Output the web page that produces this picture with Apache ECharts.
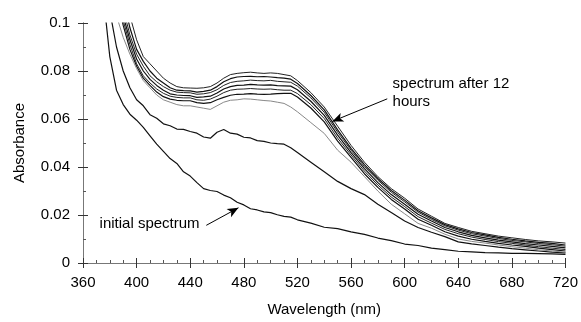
<!DOCTYPE html>
<html>
<head>
<meta charset="utf-8">
<script src="https://cdn.jsdelivr.net/npm/echarts@6/dist/echarts.min.js"></script>
<style>
  html, body { margin: 0; padding: 0; background: #fff; }
  #chart { width: 581px; height: 322px; }
</style>
</head>
<body>
<div id="chart"></div>
<script>
// wavelength grid (nm), shared by all spectra
var wavelengths = [375,380,385,390,395,400,405,410,415,420,425,430,435,440,445,450,455,460,465,470,475,480,485,490,495,500,505,510,515,520,530,540,550,560,570,580,590,600,610,620,630,640,650,660,670,680,690,700,710,720];

var initialSpectrum = [0.112,0.086,0.072,0.066,0.062,0.0595,0.0565,0.053,0.0495,0.0465,0.0435,0.0415,0.038,0.0362,0.0335,0.031,0.0302,0.0298,0.0283,0.0272,0.0253,0.0242,0.0226,0.0221,0.0213,0.021,0.0201,0.0194,0.0191,0.018,0.0166,0.0149,0.0143,0.013,0.0119,0.0104,0.0093,0.0079,0.0073,0.0062,0.0056,0.0049,0.0046,0.0043,0.0042,0.004,0.004,0.0039,0.0038,0.0036];

var secondSpectrum = [0.14,0.105,0.090,0.080,0.073,0.068,0.0655,0.0618,0.0603,0.058,0.0572,0.0558,0.0557,0.0548,0.0541,0.0525,0.052,0.0545,0.0556,0.0541,0.0537,0.0524,0.0521,0.051,0.0507,0.050,0.0497,0.0495,0.048,0.046,0.042,0.038,0.034,0.031,0.0285,0.0245,0.021,0.0175,0.0148,0.0128,0.011,0.0088,0.008,0.0073,0.0066,0.006,0.0055,0.005,0.0045,0.0042];

// later spectra, top to bottom at the 480 nm band
var later1 = [0.2,0.16,0.13,0.118,0.103,0.093,0.086,0.083,0.080,0.077,0.075,0.0735,0.073,0.0729,0.0728,0.073,0.0735,0.075,0.077,0.0785,0.079,0.0793,0.0795,0.0792,0.079,0.0792,0.079,0.0785,0.078,0.076,0.071,0.065,0.057,0.049,0.042,0.036,0.031,0.027,0.0225,0.0195,0.0165,0.0148,0.0132,0.0122,0.0112,0.0105,0.0098,0.0092,0.0088,0.0083];
var later2 = [0.19,0.15,0.125,0.11,0.098,0.089,0.084,0.080,0.077,0.075,0.073,0.072,0.0718,0.0717,0.0712,0.0715,0.072,0.0735,0.0755,0.0768,0.0775,0.0777,0.0778,0.0776,0.0777,0.0775,0.0772,0.077,0.0766,0.0748,0.0698,0.0638,0.0555,0.0478,0.041,0.0352,0.0302,0.0262,0.0218,0.0188,0.016,0.0142,0.0127,0.0117,0.0107,0.0099,0.0092,0.0086,0.0082,0.0075];
var later3 = [0.18,0.145,0.12,0.106,0.095,0.087,0.082,0.078,0.0755,0.0735,0.072,0.0712,0.071,0.0709,0.0703,0.0705,0.071,0.0722,0.074,0.0752,0.0757,0.0759,0.0762,0.076,0.0759,0.0761,0.0757,0.0755,0.0753,0.0737,0.0688,0.0628,0.0545,0.047,0.0402,0.0345,0.0295,0.0255,0.0212,0.0182,0.0155,0.0137,0.0122,0.0112,0.0102,0.0094,0.0088,0.0081,0.0076,0.007];
var later4 = [0.17,0.14,0.117,0.103,0.093,0.085,0.080,0.0765,0.074,0.072,0.0705,0.070,0.0698,0.0697,0.069,0.0692,0.0695,0.0708,0.0725,0.0735,0.074,0.0741,0.0744,0.0742,0.0741,0.0742,0.0739,0.0738,0.0737,0.0722,0.0674,0.0615,0.0533,0.046,0.0393,0.0335,0.0285,0.0245,0.0203,0.0175,0.0148,0.013,0.0115,0.0105,0.0095,0.0088,0.0081,0.0075,0.0069,0.0063];
var later5 = [0.165,0.137,0.114,0.101,0.091,0.083,0.078,0.075,0.0725,0.0707,0.0695,0.069,0.0688,0.0688,0.068,0.0678,0.0683,0.0695,0.071,0.072,0.0724,0.0725,0.0727,0.0725,0.0724,0.0725,0.0722,0.072,0.072,0.0706,0.066,0.0602,0.052,0.045,0.0383,0.0325,0.0275,0.0235,0.0193,0.0166,0.014,0.0122,0.0108,0.0098,0.0089,0.0082,0.0075,0.0068,0.0062,0.0056];
var later6 = [0.162,0.134,0.112,0.099,0.089,0.082,0.077,0.074,0.0712,0.0693,0.0683,0.0678,0.0676,0.0676,0.0668,0.0665,0.0668,0.068,0.069,0.0699,0.0703,0.0704,0.0706,0.0704,0.0703,0.0704,0.0706,0.0707,0.0707,0.0692,0.0646,0.0588,0.0508,0.044,0.0372,0.0315,0.0265,0.0225,0.0182,0.0157,0.013,0.0112,0.0099,0.009,0.0082,0.0075,0.0069,0.0062,0.0056,0.005];
var later7 = [0.16,0.13,0.103,0.094,0.087,0.081,0.076,0.073,0.070,0.068,0.067,0.066,0.0655,0.0655,0.065,0.0645,0.064,0.0655,0.067,0.0678,0.068,0.0684,0.0683,0.068,0.0677,0.0675,0.067,0.0665,0.065,0.063,0.0585,0.054,0.047,0.042,0.036,0.030,0.0245,0.0205,0.0165,0.0145,0.012,0.010,0.009,0.0083,0.0075,0.0068,0.0062,0.0055,0.005,0.0045];

var xTicks = [360, 720, 40];
var yTicks = [0, 0.1, 0.02];

// annotation arrows in data coords: [tail, head]
var arrowInitial = [[452, 0.0157], [476, 0.0230]];
var arrowLater = [[587, 0.0684], [546, 0.0590]];
var labelInitial = { text: 'initial spectrum', at: [447, 0.0165] };
var labelLater = { text: 'spectrum after 12\nhours', at: [591, 0.0710] };

var FONT = '"Liberation Sans", Arial, sans-serif';

function pairs(vals) {
  return wavelengths.map(function (w, i) { return [w, vals[i]]; });
}

function spectrum(vals, color, width) {
  return {
    type: 'line',
    data: pairs(vals),
    showSymbol: false,
    silent: true,
    lineStyle: { color: color, width: width },
    z: 3
  };
}

function arrow(a) {
  return {
    silent: true,
    symbol: ['none', 'arrow'],
    symbolSize: [7, 11],
    label: { show: false },
    lineStyle: { color: '#000', width: 1, type: 'solid' },
    data: [[{ coord: a[0] }, { coord: a[1] }]]
  };
}

var myChart = echarts.init(document.getElementById('chart'));

var axisLineStyle = { lineStyle: { color: '#777', width: 1 } };

var series = [
  spectrum(initialSpectrum, '#111', 1.2),
  spectrum(secondSpectrum, '#111', 1.2),
  spectrum(later1, '#222', 1),
  spectrum(later2, '#111', 1.2),
  spectrum(later3, '#222', 1),
  spectrum(later4, '#111', 1.2),
  spectrum(later5, '#222', 1),
  spectrum(later6, '#111', 1.2),
  spectrum(later7, '#888', 1)
];
series[0].markLine = arrow(arrowInitial);
series[1].markLine = arrow(arrowLater);

var option = {
  animation: false,
  backgroundColor: '#fff',
  grid: { left: 83, right: 15, top: 23, bottom: 55 },
  xAxis: [
    {
      type: 'value', min: xTicks[0], max: xTicks[1], interval: xTicks[2],
      name: 'Wavelength (nm)', nameLocation: 'middle', nameGap: 39,
      nameTextStyle: { color: '#000', fontSize: 15, fontFamily: FONT },
      axisLine: axisLineStyle,
      axisTick: { show: true, inside: false, length: 5, lineStyle: { color: '#333' } },
      axisLabel: { color: '#000', fontSize: 15, fontFamily: FONT, margin: 12 },
      splitLine: { show: false }
    },
    {
      type: 'value', min: xTicks[0], max: xTicks[1], interval: xTicks[2],
      position: 'bottom',
      axisLine: axisLineStyle,
      axisTick: { show: true, inside: true, length: 5, lineStyle: { color: '#333' } },
      minorTick: { show: true, splitNumber: 4, length: 3, lineStyle: { color: '#555' } },
      axisLabel: { show: false },
      splitLine: { show: false }
    }
  ],
  yAxis: [
    {
      type: 'value', min: yTicks[0], max: yTicks[1], interval: yTicks[2],
      name: 'Absorbance', nameLocation: 'middle', nameGap: 56,
      nameTextStyle: { color: '#000', fontSize: 15, fontFamily: FONT },
      axisLine: { show: true, lineStyle: { color: '#777', width: 1 } },
      axisTick: { show: true, inside: false, length: 5, lineStyle: { color: '#333' } },
      axisLabel: { color: '#000', fontSize: 15, fontFamily: FONT, margin: 13 },
      splitLine: { show: false }
    },
    {
      type: 'value', min: yTicks[0], max: yTicks[1], interval: yTicks[2],
      position: 'left',
      axisLine: { show: true, lineStyle: { color: '#777', width: 1 } },
      axisTick: { show: true, inside: true, length: 5, lineStyle: { color: '#333' } },
      minorTick: { show: true, splitNumber: 2, length: 3, lineStyle: { color: '#555' } },
      axisLabel: { show: false },
      splitLine: { show: false }
    }
  ],
  series: series
};

myChart.setOption(option);

// annotation texts placed through the axes' own scales
var p1 = myChart.convertToPixel({ gridIndex: 0 }, labelInitial.at);
var p2 = myChart.convertToPixel({ gridIndex: 0 }, labelLater.at);
myChart.setOption({
  graphic: [
    {
      type: 'text', x: p1[0], y: p1[1], silent: true,
      style: { text: labelInitial.text, fill: '#000', font: '15px ' + FONT, textAlign: 'right', textVerticalAlign: 'middle' }
    },
    {
      type: 'text', x: p2[0], y: p2[1], silent: true,
      style: { text: labelLater.text, fill: '#000', font: '15px ' + FONT, textAlign: 'left', textVerticalAlign: 'middle', lineHeight: 18 }
    }
  ]
});
</script>
</body>
</html>
